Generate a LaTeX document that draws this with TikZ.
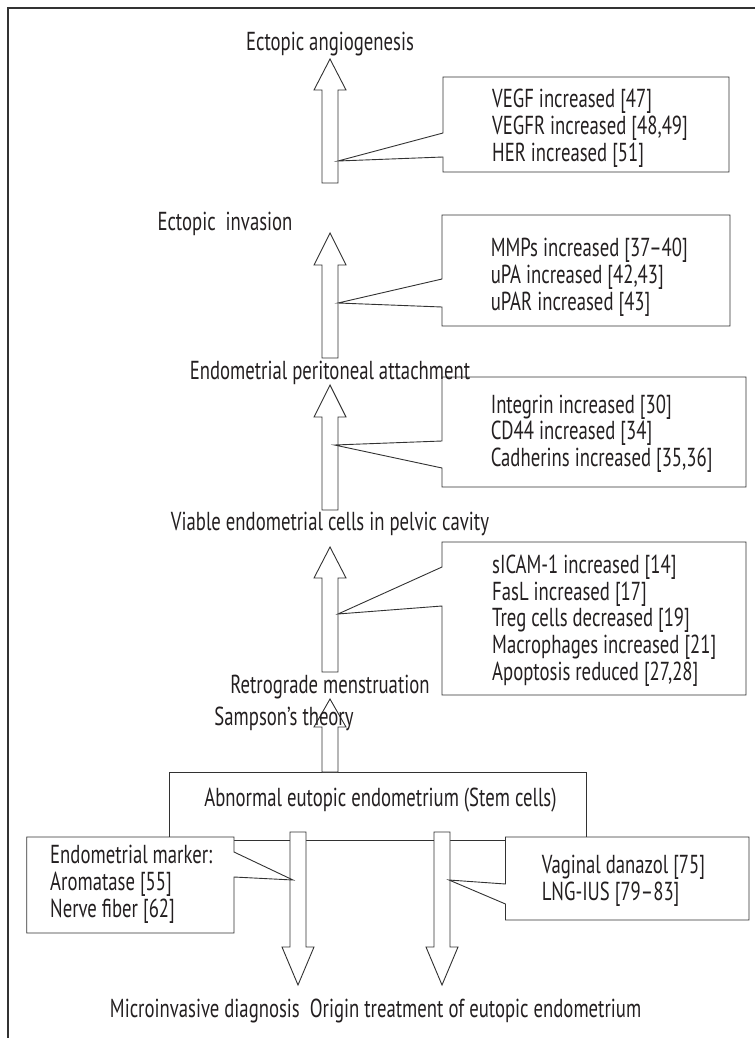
\documentclass[tikz,border=0pt]{standalone}
\usepackage{fontspec}
\setmainfont{PT Sans}[FakeStretch=0.72]
\usetikzlibrary{calc}
\definecolor{ink}{RGB}{35,31,32}
\definecolor{linec}{RGB}{50,50,50}
% block arrow from #1 (tail) to #2 (tip), head length #3
\newcommand\blockarrow[3]{%
  \path ($(#2)!#3!(#1)$) coordinate (hb);
  \draw[barrow] ($(#1)!8pt!90:(#2)$) -- ($(hb)!8pt!90:(#2)$) -- ($(hb)!16pt!90:(#2)$) -- (#2)
    -- ($(hb)!16pt!-90:(#2)$) -- ($(hb)!8pt!-90:(#2)$) -- ($(#1)!8pt!-90:(#2)$) -- cycle;}
\newcommand\boxlines[2]{\vtop{\baselineskip=#1\lineskiplimit=-100pt #2}}
\begin{document}
\begin{tikzpicture}[x=1pt,y=-1pt,
  txt/.style={inner sep=0pt, text=ink, font=\fontsize{26}{26.8}\selectfont},
  barrow/.style={draw=linec, line width=0.9pt, fill=white, line join=miter},
  callout/.style={draw=linec, line width=0.9pt, fill=white, line join=miter},
  frame/.style={draw=linec, line width=1.3pt}]
\useasboundingbox (0,0) rectangle (755,1038);
\draw[frame] (8,1038) -- (8,8) -- (755,8);

% stem-cell box
\draw[callout] (169.5,772) rectangle (586,840);

% arrow end points
\coordinate (a1s) at (330,183); \coordinate (a1e) at (330,59);
\coordinate (a2s) at (330,358); \coordinate (a2e) at (330,233);
\coordinate (a3s) at (330,510); \coordinate (a3e) at (330,385);
\coordinate (a4s) at (330,672); \coordinate (a4e) at (330,547);
\coordinate (a5s) at (330,772); \coordinate (a5e) at (330,699);
\coordinate (b1s) at (298,832); \coordinate (b1e) at (298,985);
\coordinate (b2s) at (442,832); \coordinate (b2e) at (442,985);

\blockarrow{a1s}{a1e}{31pt}
\blockarrow{a2s}{a2e}{32pt}
\blockarrow{a3s}{a3e}{32pt}
\blockarrow{a4s}{a4e}{31pt}
\blockarrow{a5s}{a5e}{28pt}
\blockarrow{b1s}{b1e}{38pt}
\blockarrow{b2s}{b2e}{38pt}

% callout pointer tips
\coordinate (p1) at (338,161);
\coordinate (p2) at (338,303);
\coordinate (p3) at (334.5,445);
\coordinate (p4) at (338,614);
\coordinate (p5) at (293,880);
\coordinate (p6) at (449,880);

\draw[callout] (443,77) -- (729,77) -- (729,172) -- (443,172) -- (443,157) -- (p1) -- (443,133) -- cycle;
\draw[callout] (442,215) -- (730,215) -- (730,326) -- (442,326) -- (442,307) -- (p2) -- (442,279) -- cycle;
\draw[callout] (442,377) -- (746,377) -- (746,487) -- (442,487) -- (442,468) -- (p3) -- (442,441) -- cycle;
\draw[callout] (442,542) -- (746,542) -- (746,695) -- (442,695) -- (442,606) -- (p4) -- (442,567) -- cycle;
\draw[callout] (26.7,837) -- (234,837) -- (234,852) -- (p5) -- (234,877) -- (234,933) -- (26.7,933) -- cycle;
\draw[callout] (505.5,837) -- (749,837) -- (749,920) -- (505.5,920) -- (505.5,904) -- (p6) -- (505.5,884) -- cycle;

% stage labels
\node[txt, anchor=base] (angio) at (330,50.7) {Ectopic angiogenesis};
\node[txt, anchor=base] (inva) at (225,230) {Ectopic\ \ invasion};
\node[txt, anchor=base] (attach) at (330,379) {Endometrial peritoneal attachment};
\node[txt, anchor=base] (viable) at (330,530) {Viable endometrial cells in pelvic cavity};
\node[txt, anchor=base] (retro) at (330,693) {Retrograde menstruation};
\node[txt, anchor=base] (samp) at (284,725.5) {Sampson’s theory};
\node[txt, anchor=base] (abn) at (380.5,806.5) {Abnormal eutopic endometrium (Stem cells)};
\node[txt, anchor=base] (bottom) at (375.6,1017) {Microinvasive diagnosis\ \ Origin treatment of eutopic endometrium};

% box texts
\node[txt, anchor=base west] (t1) at (492,107.3) {\boxlines{27pt}{\hbox{VEGF increased [47]}\hbox{VEGFR increased [48,49]}\hbox{HER increased [51]}}};
\node[txt, anchor=base west] (t2) at (490.6,256) {\boxlines{27pt}{\hbox{MMPs increased [37–40]}\hbox{uPA increased [42,43]}\hbox{uPAR increased [43]}}};
\node[txt, anchor=base west] (t3) at (490.6,413) {\boxlines{26.5pt}{\hbox{Integrin increased [30]}\hbox{CD44 increased [34]}\hbox{Cadherins increased [35,36]}}};
\node[txt, anchor=base west] (t4) at (492,573.5) {\boxlines{26.7pt}{\hbox{sICAM-1 increased [14]}\hbox{FasL increased [17]}\hbox{Treg cells decreased [19]}\hbox{Macrophages increased [21]}\hbox{Apoptosis reduced [27,28]}}};
\node[txt, anchor=base west] (t5) at (50,863.5) {\boxlines{27pt}{\hbox{Endometrial marker:}\hbox{Aromatase [55]}\hbox{Nerve fiber [62]}}};
\node[txt, anchor=base west] (t6) at (541.6,873) {\boxlines{27pt}{\hbox{Vaginal danazol [75]}\hbox{LNG-IUS [79–83]}}};
\end{tikzpicture}
\end{document}
